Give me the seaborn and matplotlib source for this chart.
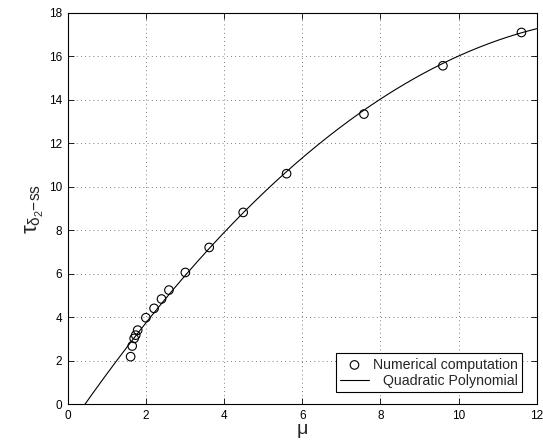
import numpy as np
import pandas as pd
import matplotlib
matplotlib.use("Agg")
import matplotlib.pyplot as plt
import seaborn as sns

# Data
mu_values = [1.61, 1.65, 1.70, 1.74, 1.79, 2.00, 2.21, 2.40, 2.59, 3.01,
             3.62, 4.49, 5.60, 7.58, 9.60, 11.61]
tau_values = [2.19, 2.68, 3.03, 3.18, 3.41, 3.98, 4.41, 4.84, 5.25, 6.06,
              7.21, 8.82, 10.60, 13.34, 15.56, 17.09]
# Quadratic polynomial coefficients (c0 + c1*mu + c2*mu^2)
poly_coeffs = [-1.135, 2.6197, -0.09054]
x_ticks = [0, 2, 4, 6, 8, 10, 12]
y_ticks = [0, 2, 4, 6, 8, 10, 12, 14, 16, 18]

sns.set_style("white")
plt.rcParams['font.family'] = ['Liberation Sans', 'DejaVu Sans']
plt.rcParams['mathtext.fontset'] = 'custom'
plt.rcParams['mathtext.rm'] = 'Liberation Sans'
plt.rcParams['mathtext.it'] = 'Liberation Sans'

fig = plt.figure(figsize=(5.43, 4.48), dpi=100)
ax = fig.add_axes([0.1247, 0.0975, 0.8637, 0.8742])

pts = pd.DataFrame({"mu": mu_values, "tau": tau_values})
xs = np.linspace(0, 12, 400)
ys = poly_coeffs[0] + poly_coeffs[1] * xs + poly_coeffs[2] * xs ** 2
curve = pd.DataFrame({"mu": xs, "tau": ys})

sns.scatterplot(data=pts, x="mu", y="tau", ax=ax, marker="o", s=38,
                facecolor="none", edgecolor="black", linewidth=0.8,
                label="Numerical computation", zorder=3)
sns.lineplot(data=curve, x="mu", y="tau", ax=ax, color="black", linewidth=0.8,
             label="Quadratic Polynomial", zorder=2)

ax.set_xlim(0, 12)
ax.set_ylim(0, 18)
ax.set_xticks(x_ticks)
ax.set_yticks(y_ticks)
ax.set_xticklabels([str(t) for t in x_ticks], fontsize=8.5)
ax.set_yticklabels([str(t) for t in y_ticks], fontsize=8.5)
ax.tick_params(direction="in", length=4, width=0.6, top=True, right=True,
               bottom=True, left=True, pad=4, colors="black")
for sp in ax.spines.values():
    sp.set_visible(True)
    sp.set_color("black")
    sp.set_linewidth(0.8)
ax.grid(True, linestyle=(0, (1, 4)), color="#555555", linewidth=0.6)

ax.set_xlabel(r"$\mu$", fontsize=14, labelpad=0)
ax.set_ylabel(r"$\tau_{\delta_2\mathrm{-ss}}$", fontsize=16, labelpad=2)

leg = ax.legend(loc="lower right", bbox_to_anchor=(0.9687, 0.0314),
                fontsize=10.2, frameon=True, fancybox=False,
                edgecolor="black", borderaxespad=0, handlelength=2.0,
                handletextpad=0.3, borderpad=0.3, labelspacing=0.15,
                markerfirst=True)
leg.get_frame().set_linewidth(0.8)
leg.get_frame().set_alpha(1)

fig.canvas.draw()
renderer = fig.canvas.get_renderer()
widths = [t.get_window_extent(renderer).width for t in leg.get_texts()]
wmax = max(widths)
for t, w in zip(leg.get_texts(), widths):
    t.set_position((wmax - w, 0))

fig.savefig("out.png", dpi=100, facecolor="white")
